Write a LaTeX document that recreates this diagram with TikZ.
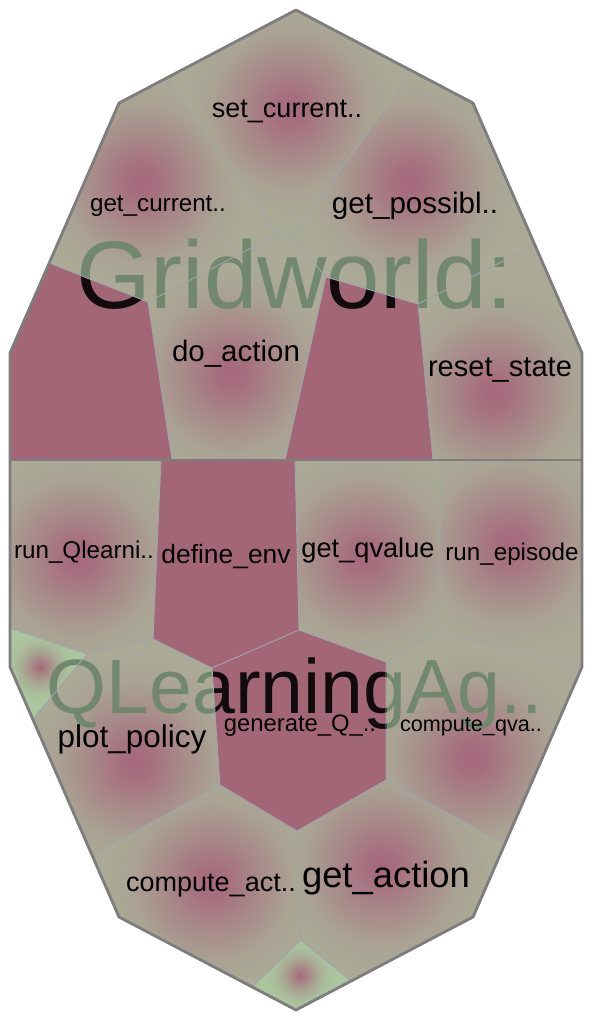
\documentclass[tikz,border=0pt]{standalone}
\usepackage{fontspec}
\setmainfont{Liberation Sans}
\definecolor{khaki}{RGB}{170,170,150}
\definecolor{pinkc}{RGB}{162,102,118}
\definecolor{spot}{RGB}{166,104,124}
\definecolor{greenc}{RGB}{170,198,158}
\definecolor{bordc}{RGB}{125,125,125}
\definecolor{linec}{RGB}{160,164,172}
\definecolor{txtg}{RGB}{114,136,110}
\definecolor{txtk}{RGB}{18,10,12}
\pgfdeclareradialshading{spotsh}{\pgfpoint{0bp}{0bp}}{color(0bp)=(spot); color(4bp)=(spot!88!khaki); color(12bp)=(spot!45!khaki); color(19bp)=(spot!12!khaki); color(25bp)=(khaki); color(50bp)=(khaki)}
\pgfdeclareradialshading{greensh}{\pgfpoint{0bp}{0bp}}{color(0bp)=(spot); color(4bp)=(spot!75!greenc); color(12bp)=(spot!30!greenc); color(19bp)=(spot!6!greenc); color(25bp)=(greenc); color(50bp)=(greenc)}
\tikzset{
  cellline/.style={draw=linec, line width=0.9pt, line join=round},
  hull/.style={draw=bordc, line width=2.8pt, line join=round},
  lbl/.style={inner sep=0pt, anchor=base, text=black},
  bigtxt/.style={inner sep=0pt, anchor=base}
}
\newcommand{\fs}[1]{\fontsize{#1}{#1}\selectfont}
\begin{document}
\begin{tikzpicture}[x=1pt,y=-1pt]
\useasboundingbox (0,0) rectangle (592,1020);
% hull vertices
\coordinate (h1) at (296,10);  \coordinate (h2) at (473,103);
\coordinate (h3) at (582,353); \coordinate (h4) at (582,667);
\coordinate (h5) at (473,917); \coordinate (h6) at (296,1010);
\coordinate (h7) at (119,917); \coordinate (h8) at (10,667);
\coordinate (h9) at (10,353);  \coordinate (h10) at (119,103);
\coordinate (L) at (10,460);   \coordinate (R) at (582,460);
% top vertices
\coordinate (A) at (168,81);  \coordinate (B) at (410,75);
\coordinate (C) at (278,234); \coordinate (D) at (292,237);
\coordinate (E) at (148,302); \coordinate (F) at (49,263);
\coordinate (G) at (326,277); \coordinate (H) at (418,304);
\coordinate (I) at (535,245); \coordinate (J) at (172,460);
\coordinate (K) at (285,460); \coordinate (M) at (433,460);
% bottom vertices
\coordinate (N1) at (161,460); \coordinate (N2) at (153,639);
\coordinate (N3) at (295,460); \coordinate (N4) at (299,630);
\coordinate (N5) at (442,460); \coordinate (N6) at (438,631);
\coordinate (P2) at (386,662); \coordinate (P3) at (386,780);
\coordinate (P4) at (297,831); \coordinate (P5) at (220,785);
\coordinate (P6) at (212,668);
\coordinate (Q1) at (10,628);  \coordinate (Q2) at (87,654);
\coordinate (Q3) at (33,719);  \coordinate (S1) at (92,855);
\coordinate (T1) at (301,940); \coordinate (T2) at (252,987);
\coordinate (T3) at (351,981); \coordinate (U1) at (505,844);

% base fill
\fill[khaki] (h1)--(h2)--(h3)--(h4)--(h5)--(h6)--(h7)--(h8)--(h9)--(h10)--cycle;

% shaded khaki cells: polygon, spot centre
\foreach \poly/\cx/\cy in {
  {(A)--(h1)--(B)--(D)--(C)--cycle}/290/110,
  {(h10)--(A)--(C)--(E)--(F)--cycle}/142/182,
  {(B)--(h2)--(I)--(H)--(G)--(D)--cycle}/409/182,
  {(C)--(D)--(G)--(K)--(J)--(E)--cycle}/231/373,
  {(H)--(I)--(h3)--(R)--(M)--cycle}/494/393,
  {(L)--(N1)--(N2)--(Q2)--(Q1)--cycle}/78/558,
  {(N3)--(N5)--(N6)--(P2)--(N4)--cycle}/364/556,
  {(N5)--(R)--(h4)--(N6)--cycle}/510/545,
  {(Q3)--(Q2)--(N2)--(P6)--(P5)--(S1)--cycle}/135/762,
  {(N6)--(h4)--(U1)--(P3)--(P2)--cycle}/472/758,
  {(S1)--(P5)--(P4)--(T1)--(T2)--(h7)--cycle}/212/882,
  {(P4)--(P3)--(U1)--(h5)--(T3)--(T1)--cycle}/382/866}
{
  \begin{scope}
    \clip \poly;
    \shade[shading=spotsh] (\cx,\cy) circle (105pt);
  \end{scope}
}
% green cells
\begin{scope}
  \clip (Q1)--(Q2)--(Q3)--(h8)--cycle;
  \fill[greenc] (0,600) rectangle (100,740);
  \shade[shading=greensh] (40,667) circle (36pt);
\end{scope}
\begin{scope}
  \clip (T1)--(T3)--(h6)--(T2)--cycle;
  \fill[greenc] (240,920) rectangle (360,1015);
  \shade[shading=greensh] (300,975) circle (36pt);
\end{scope}
% pink cells
\fill[pinkc] (F)--(E)--(J)--(L)--(h9)--cycle;
\fill[pinkc] (G)--(H)--(M)--(K)--cycle;
\fill[pinkc] (N1)--(N3)--(N4)--(P6)--(N2)--cycle;
\fill[pinkc] (N4)--(P2)--(P3)--(P4)--(P5)--(P6)--cycle;

% big group titles
\node[bigtxt, text=txtg, font=\fs{96}] (grid) at (295,308) {Gridworld:};
\begin{scope}
  \clip (F)--(E)--(J)--(L)--(h9)--cycle (G)--(H)--(M)--(K)--cycle;
  \node[bigtxt, text=txtk, font=\fs{96}] (gridk) at (295,308) {Gridworld:};
\end{scope}
\node[bigtxt, text=txtg, font=\fs{77}] (qla) at (295,713) {QLearningAg..};
\begin{scope}
  \clip (N1)--(N3)--(N4)--(P6)--(N2)--cycle (N4)--(P2)--(P3)--(P4)--(P5)--(P6)--cycle;
  \node[bigtxt, text=txtk, font=\fs{77}] (qlak) at (295,713) {QLearningAg..};
\end{scope}

% cell borders
\draw[cellline] (A)--(C)--(D)--(B);
\draw[cellline] (C)--(E)--(F);
\draw[cellline] (E)--(J);
\draw[cellline] (D)--(G)--(K);
\draw[cellline] (G)--(H)--(M);
\draw[cellline] (H)--(I);
\draw[cellline] (N1)--(N2)--(P6)--(N4)--(N3);
\draw[cellline] (N2)--(Q2)--(Q1);
\draw[cellline] (Q2)--(Q3);
\draw[cellline] (N4)--(P2)--(N6)--(N5);
\draw[cellline] (N6)--(h4);
\draw[cellline] (P6)--(P5)--(P4)--(P3)--(P2);
\draw[cellline] (P5)--(S1);
\draw[cellline] (P3)--(U1);
\draw[cellline] (P4)--(T1)--(T2);
\draw[cellline] (T1)--(T3);

% hull and divider
\draw[hull] (h1)--(h2)--(h3)--(h4)--(h5)--(h6)--(h7)--(h8)--(h9)--(h10)--cycle;
\draw[hull] (L)--(R);

% labels
\node[lbl, font=\fs{27}] (l1) at (287,117) {set\_current..};
\node[lbl, font=\fs{24.2}] (l2) at (158,211) {get\_current..};
\node[lbl, font=\fs{29.6}] (l3) at (415,213) {get\_possibl..};
\node[lbl, font=\fs{29.5}] (l4) at (236,361) {do\_action};
\node[lbl, font=\fs{29.1}] (l5) at (500,376) {reset\_state};
\node[lbl, font=\fs{24.2}] (l6) at (84,558) {run\_Qlearni..};
\node[lbl, font=\fs{26.4}] (l7) at (226,563) {define\_env};
\node[lbl, font=\fs{27.2}] (l8) at (368,557) {get\_qvalue};
\node[lbl, font=\fs{24.2}] (l9) at (512,560) {run\_episode};
\node[lbl, font=\fs{31.5}] (l10) at (132,747) {plot\_policy};
\node[lbl, font=\fs{23.8}] (l11) at (300,731) {generate\_Q\_..};
\node[lbl, font=\fs{21.6}] (l12) at (471,731) {compute\_qva..};
\node[lbl, font=\fs{27}] (l13) at (211,891) {compute\_act..};
\node[lbl, font=\fs{36.4}] (l14) at (386,887) {get\_action};
\end{tikzpicture}
\end{document}
